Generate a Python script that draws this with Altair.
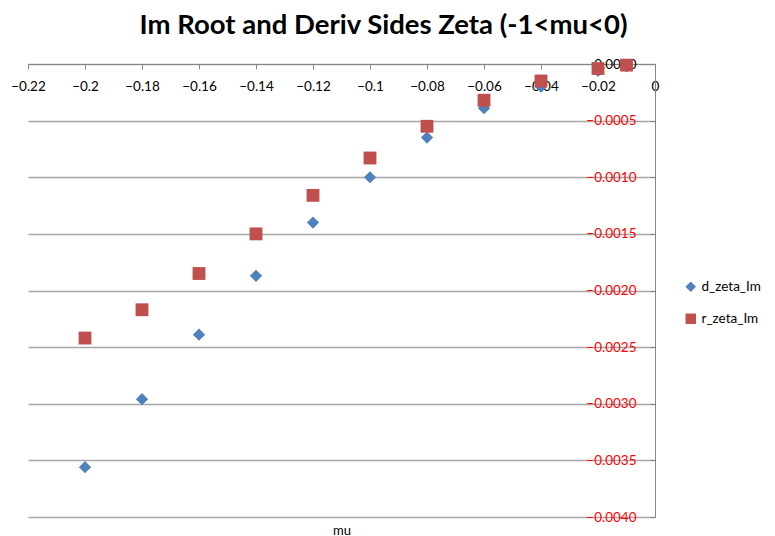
import altair as alt
import pandas as pd

mu = [-0.2, -0.18, -0.16, -0.14, -0.12, -0.1, -0.08, -0.06, -0.04, -0.02, -0.01]
d_zeta_Im = [-0.00356, -0.00296, -0.00239, -0.00187, -0.00140, -0.00100,
             -0.00065, -0.00039, -0.00020, -0.00006, -0.00002]
r_zeta_Im = [-0.00242, -0.00217, -0.00185, -0.00150, -0.00116, -0.00083,
             -0.00055, -0.00032, -0.00015, -0.00004, -0.00001]
series_names = ["d_zeta_Im", "r_zeta_Im"]
x_ticks = [-0.22, -0.2, -0.18, -0.16, -0.14, -0.12, -0.1, -0.08, -0.06, -0.04, -0.02, 0]
y_ticks = [0, -0.0005, -0.001, -0.0015, -0.002, -0.0025, -0.003, -0.0035, -0.004]

rows = []
for m, d, r in zip(mu, d_zeta_Im, r_zeta_Im):
    rows.append({"mu": m, "value": d, "series": series_names[0]})
    rows.append({"mu": m, "value": r, "series": series_names[1]})
df = pd.DataFrame(rows)

W, H = 627, 453
FONT = "Lato"

chart = alt.Chart(df).mark_point(filled=True, opacity=1).encode(
    x=alt.X("mu:Q",
            scale=alt.Scale(domain=[-0.22, 0], nice=False, zero=False),
            axis=alt.Axis(orient="bottom", offset=-H, values=x_ticks, format="~g",
                          title="mu", titleY=H + 7, titleBaseline="top", titleFont=FONT,
                          titleFontSize=13, titleFontWeight="normal", titleColor="#000000",
                          grid=False, domainColor="#868686", tickColor="#868686",
                          tickSize=5, labelPadding=10, labelFont=FONT, labelFontSize=13.5,
                          labelColor="#000000", labelFlush=False)),
    y=alt.Y("value:Q",
            scale=alt.Scale(domain=[-0.004, 0], nice=False, zero=False),
            axis=alt.Axis(orient="left", offset=-W, values=y_ticks, format=".4f",
                          title=None, grid=True, gridColor="#a6a6a6", gridWidth=1.3,
                          domainColor="#868686", tickColor="#868686", tickSize=5,
                          labelPadding=14, labelFont=FONT, labelFontSize=13.5,
                          labelColor=alt.condition("datum.value < 0", alt.value("#ff0000"), alt.value("#000000")))),
    color=alt.Color("series:N",
                    scale=alt.Scale(domain=series_names, range=["#4f81bd", "#c0504d"]),
                    legend=alt.Legend(title=None, orient="none", legendX=W + 29, legendY=216,
                                      labelFont=FONT, labelFontSize=13.5, labelColor="#000000",
                                      symbolSize=110, rowPadding=15, symbolOpacity=1)),
    shape=alt.Shape("series:N",
                    scale=alt.Scale(domain=series_names, range=["diamond", "square"])),
    size=alt.condition("datum.series == 'd_zeta_Im'", alt.value(150), alt.value(165)),
).properties(
    width=W, height=H,
    autosize=alt.AutoSizeParams(type="none"),
    padding={"left": 20, "top": 56, "right": 112, "bottom": 19},
    title=alt.TitleParams("Im Root and Deriv Sides Zeta (-1<mu<0)", font=FONT, fontSize=27.5,
                          fontWeight="bold", color="#000000", anchor="middle", dx=42, offset=18),
).configure_view(stroke=None)

chart.save("out.html", embed_options={"renderer": "svg", "actions": False})
